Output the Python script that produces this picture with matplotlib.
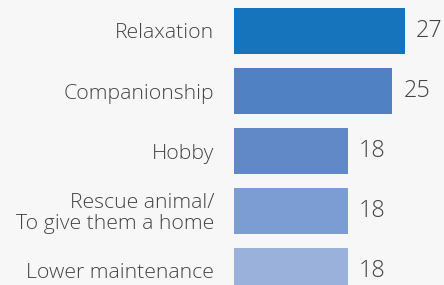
import matplotlib
matplotlib.use("Agg")
import matplotlib.pyplot as plt

categories = ["Relaxation", "Companionship", "Hobby",
              "Rescue animal/\nTo give them a home", "Lower maintenance"]
values = [27, 25, 18, 18, 18]
colors = ["#1574bb", "#4f81c3", "#6189c7", "#7c9dd3", "#9ab1db"]

plt.rcParams['font.family'] = ['Open Sans', 'DejaVu Sans']
bg = "#f7f7f7"
txt = "#444444"
fig = plt.figure(figsize=(4.44, 2.85), dpi=100, facecolor=bg)
ax = fig.add_axes([234/444, 0, 210/444, 1], facecolor=bg)

y = list(range(len(categories)))
bars = ax.barh(y, values, height=46/60, color=colors)
ax.set_xlim(0, 210/6.333)
ax.set_ylim((285-31)/60, -31/60)
ax.set_yticks(y)
ax.set_yticklabels(categories, fontsize=15.3, color=txt, linespacing=1.02,
                   fontweight='light')
ax.tick_params(axis='y', length=0, pad=14.4)
ax.set_xticks([])
for s in ax.spines.values():
    s.set_visible(False)
ax.bar_label(bars, labels=[str(v) for v in values], padding=8,
             fontsize=16.8, color=txt, fontweight='light')

fig.savefig("out.png", dpi=100, facecolor=bg)
